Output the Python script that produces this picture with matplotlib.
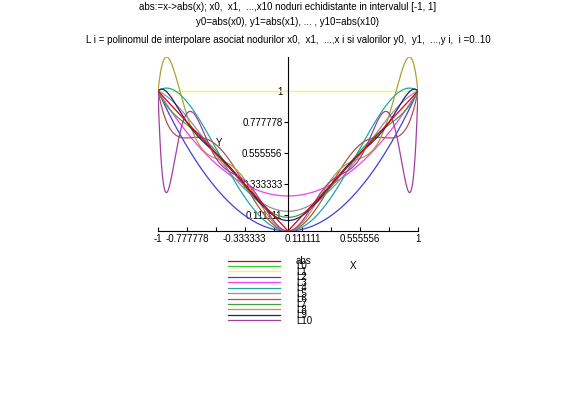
import numpy as np
import matplotlib.pyplot as plt

plt.rcParams['font.family'] = ['Liberation Sans', 'DejaVu Sans']

# L i interpoleaza abs in i+1 noduri echidistante din [-1, 1]
node_counts = [1, 2, 3, 4, 5, 6, 7, 8, 9, 10, 11]
labels = ['abs'] + ['L%d' % i for i in range(11)]
colors = ['#e00000', '#30d030', '#ffff00', '#4040e0', '#f040f0', '#20a8a8',
          '#9090a8', '#b05050', '#40a040', '#b0a030', '#202080', '#a040a0']

xticks = [-1, -0.777778, -0.555556, -0.333333, -0.111111,
          0.111111, 0.333333, 0.555556, 0.777778, 1]
xtick_labels = ['-1', '-0.777778', '', '-0.333333', '',
                '0.111111', '', '0.555556', '', '1']
yticks = [0.111111, 0.333333, 0.555556, 0.777778, 1]
ytick_labels = ['0.111111', '0.333333', '0.555556', '0.777778', '1']

titles = ['abs:=x->abs(x); x0,  x1,  ...,x10 noduri echidistante in intervalul [-1, 1]',
          'y0=abs(x0), y1=abs(x1), ... , y10=abs(x10)',
          'L i = polinomul de interpolare asociat nodurilor x0,  x1,  ...,x i si valorilor y0,  y1,  ...,y i,  i =0..10']

xs = np.linspace(-1, 1, 600)
curves = [np.abs(xs)]
for n in node_counts:
    xn = np.linspace(-1, 1, n)
    coef = np.polyfit(xn, np.abs(xn), n - 1)
    curves.append(np.polyval(coef, xs))

ymax = max(c.max() for c in curves)
ymin = min(0, min(c.min() for c in curves))

W, H = 576, 399
fig = plt.figure(figsize=(W / 100, H / 100), dpi=100)
px_unit = 140
ax = fig.add_axes([158 / W, (H - 231 - (0 - ymin) * px_unit) / H,
                   260 / W, (ymax - ymin) * px_unit / H])

handles = []
for i, c in enumerate(curves):
    z = 5 if i == 0 else 2
    lw = 0.5 if i == 1 else 0.9
    h, = ax.plot(xs, c, color=colors[i], lw=lw, zorder=z)
    handles.append(h)

ax.set_xlim(-1, 1)
ax.set_ylim(ymin, ymax)
ax.spines['left'].set_position(('data', 0))
ax.spines['bottom'].set_position(('data', 0))
ax.spines['top'].set_visible(False)
ax.spines['right'].set_visible(False)
for s in ['left', 'bottom']:
    ax.spines[s].set_linewidth(0.8)
ax.set_xticks(xticks)
ax.set_xticklabels(xtick_labels)
ax.set_yticks(yticks)
ax.set_yticklabels(ytick_labels)
ax.tick_params(axis='x', direction='in', length=3, labelsize=7, pad=2)
ax.tick_params(axis='y', direction='out', length=3, labelsize=7, pad=1)
ax.patch.set_visible(False)

for k, t in enumerate(titles):
    fig.text(0.5, 1 - [7, 22, 40][k] / H, t, ha='center', va='center', fontsize=7)

fig.text(219 / W, 1 - 143 / H, 'Y', ha='center', va='center', fontsize=7)
fig.text(353 / W, 1 - 266 / H, 'X', ha='center', va='center', fontsize=7)

leg = fig.legend(handles, labels, loc='upper left', bbox_to_anchor=(228 / W, 1 - 256 / H),
                 frameon=False, fontsize=7, handlelength=5.3, handletextpad=1.7,
                 labelspacing=-0.47, borderpad=0, borderaxespad=0)
for ln in leg.get_lines():
    ln.set_linewidth(0.9)

fig.savefig('out.png', dpi=100)
